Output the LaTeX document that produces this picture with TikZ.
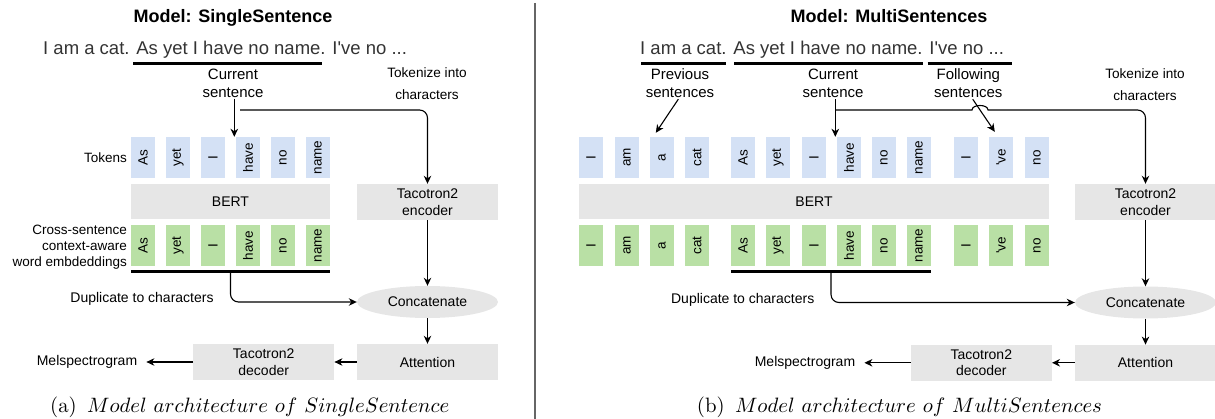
\documentclass[tikz,border=0pt]{standalone}
\usepackage{fontspec}
\usepackage{graphicx}
\newfontfamily\arialfont{Liberation Sans}
\usetikzlibrary{shapes.geometric,arrows.meta}

\definecolor{tokblue}{RGB}{212,225,245}
\definecolor{embgreen}{RGB}{185,224,165}
\definecolor{boxgray}{RGB}{230,230,230}

\newcommand{\vt}[1]{\rotatebox{90}{#1}}
\newcommand{\subcap}[2]{\scalebox{2.08}{(#1)\hspace{0.5em}$#2$}}

\begin{document}
\begin{tikzpicture}[x=1pt,y=-1pt,
  font=\arialfont\fontsize{14}{16.7}\selectfont,
  ttl/.style={inner sep=0pt, anchor=base, font=\arialfont\bfseries\fontsize{18}{20}\selectfont},
  sent/.style={inner sep=0pt, anchor=base west, text=black!80, font=\arialfont\fontsize{18.5}{22}\selectfont},
  capt/.style={inner sep=0pt, anchor=base west, font=\fontsize{10}{12}\selectfont},
  lbl/.style={align=center, inner sep=1pt, font=\arialfont\fontsize{15}{18}\selectfont},
  small/.style={font=\arialfont\fontsize{13.5}{16.3}\selectfont},
  tok/.style={fill=tokblue, minimum width=24pt, minimum height=41pt, inner sep=0pt, small},
  emb/.style={tok, fill=embgreen},
  gbox/.style={fill=boxgray, minimum width=141pt, minimum height=36pt, inner sep=0pt, align=center},
  arr/.style={-{Stealth[length=8pt,width=7.5pt,inset=2.5pt]}, line width=1.1pt},
  uline/.style={line width=3pt},
]
\useasboundingbox (0,0) rectangle (1215,419);

%%% SingleSentence
\node[ttl] (sTitle) at (233,23) {Model: SingleSentence};
\node[sent] (sSent) at (43,54.5) {I am a cat. As yet I have no name. I've no ...};
\draw[uline] (133,63.5) -- (322,63.5);

\node[lbl] (sCur) at (233,83) {Current\\sentence};
\node[align=center, font=\arialfont\fontsize{13.6}{22}\selectfont] (sTok) at (427,84) {Tokenize into\\characters};
\node[small, anchor=east, inner sep=1pt] (sTokLbl) at (128,158) {Tokens};
\node[small, anchor=east, align=right, inner sep=1pt] (sEmbLbl) at (128,247) {Cross-sentence\\context-aware\\word embdeddings};

\node[tok] (sT1) at (143,157.5) {\vt{As}};
\node[tok] (sT2) at (178,157.5) {\vt{yet}};
\node[tok] (sT3) at (213,157.5) {\vt{I}};
\node[tok] (sT4) at (248,157.5) {\vt{have}};
\node[tok] (sT5) at (283,157.5) {\vt{no}};
\node[tok] (sT6) at (318,157.5) {\vt{name}};

\node[gbox, minimum width=199pt, minimum height=35pt] (sBERT) at (230.5,201.5) {BERT};

\node[emb] (sE1) at (143,245.5) {\vt{As}};
\node[emb] (sE2) at (178,245.5) {\vt{yet}};
\node[emb] (sE3) at (213,245.5) {\vt{I}};
\node[emb] (sE4) at (248,245.5) {\vt{have}};
\node[emb] (sE5) at (283,245.5) {\vt{no}};
\node[emb] (sE6) at (318,245.5) {\vt{name}};

\node[gbox] (sEnc) at (427.5,202) {Tacotron2\\encoder};
\node[gbox, ellipse, minimum height=32pt] (sCat) at (427.5,302) {Concatenate};
\node[gbox] (sAtt) at (427.5,362) {Attention};
\node[gbox] (sDec) at (263.7,362) {Tacotron2\\decoder};
\node[inner xsep=9pt] (sMel) at (87,362) {Melspectrogram};
\node (sDup) at (142,299) {Duplicate to characters};

\coordinate (sHit) at ([xshift=-1.5pt]sT4.north west);
\coordinate (sTap) at (240,110);
\draw[arr] (sCur.south -| sHit) -- (sHit);
\draw[arr, rounded corners=8pt] (sTap) -| (sEnc.north);
\draw[uline] ([yshift=-5.5pt]sE1.south west) -- ([yshift=-5.5pt]sE6.south east) coordinate[midway] (sUl);
\draw[arr, rounded corners=8pt] (sUl) |- (sCat.west);
\draw[arr] (sEnc.south) -- (sCat.north);
\draw[arr] (sCat.south) -- (sAtt.north);
\draw[arr] (sAtt.west) -- (sDec.east);
\draw[arr] (sDec.west) -- (sMel.east);

\node[capt] (sCap) at (50,412) {\subcap{a}{Model\ architecture\ of\ SingleSentence}};

%%% divider
\draw[black!60, line width=1.3pt] (535,3) -- (535,419);

%%% MultiSentences
\node[ttl] (mTitle) at (889,23) {Model: MultiSentences};
\node[sent] (mSent) at (640,54.5) {I am a cat. As yet I have no name. I've no ...};
\draw[uline] (641,63.5) -- (725.7,63.5);
\draw[uline] (734,63.5) -- (922.7,63.5);
\draw[uline] (927.7,63.5) -- (1011.7,63.5);

\node[lbl] (mPrev) at (680,83.5) {Previous\\sentences};
\node[lbl] (mCur) at (833,83.5) {Current\\sentence};
\node[lbl] (mFol) at (968.3,83.5) {Following\\sentences};
\node[align=center, font=\arialfont\fontsize{13.6}{22}\selectfont] (mTok) at (1145,84.5) {Tokenize into\\characters};

\node[tok] (mT1) at (591,157.5) {\vt{I}};
\node[tok] (mT2) at (627,157.5) {\vt{am}};
\node[tok] (mT3) at (662,157.5) {\vt{a}};
\node[tok] (mT4) at (697,157.5) {\vt{cat}};
\node[tok] (mT5) at (743,157.5) {\vt{As}};
\node[tok] (mT6) at (778,157.5) {\vt{yet}};
\node[tok] (mT7) at (814,157.5) {\vt{I}};
\node[tok] (mT8) at (849,157.5) {\vt{have}};
\node[tok] (mT9) at (884,157.5) {\vt{no}};
\node[tok] (mT10) at (919,157.5) {\vt{name}};
\node[tok] (mT11) at (966,157.5) {\vt{I}};
\node[tok] (mT12) at (1001,157.5) {\vt{\textquotesingle ve}};
\node[tok] (mT13) at (1037,157.5) {\vt{no}};

\node[gbox, minimum width=470pt, minimum height=35pt] (mBERT) at (814,201.5) {BERT};

\node[emb] (mE1) at (591,245.5) {\vt{I}};
\node[emb] (mE2) at (627,245.5) {\vt{am}};
\node[emb] (mE3) at (662,245.5) {\vt{a}};
\node[emb] (mE4) at (697,245.5) {\vt{cat}};
\node[emb] (mE5) at (743,245.5) {\vt{As}};
\node[emb] (mE6) at (778,245.5) {\vt{yet}};
\node[emb] (mE7) at (814,245.5) {\vt{I}};
\node[emb] (mE8) at (849,245.5) {\vt{have}};
\node[emb] (mE9) at (884,245.5) {\vt{no}};
\node[emb] (mE10) at (919,245.5) {\vt{name}};
\node[emb] (mE11) at (966,245.5) {\vt{I}};
\node[emb] (mE12) at (1001,245.5) {\vt{\textquotesingle ve}};
\node[emb] (mE13) at (1037,245.5) {\vt{no}};

\node[gbox] (mEnc) at (1145.5,202) {Tacotron2\\encoder};
\node[gbox, ellipse, minimum height=32pt] (mCat) at (1145.5,302.5) {Concatenate};
\node[gbox] (mAtt) at (1145.5,362.8) {Attention};
\node[gbox] (mDec) at (981.3,362.8) {Tacotron2\\decoder};
\node[inner xsep=9pt] (mMel) at (805,362.8) {Melspectrogram};
\node (mDup) at (742.7,300) {Duplicate to characters};

\coordinate (mHit) at ([xshift=-1.5pt]mT8.north west);
\coordinate (mTap) at (mHit |- sTap);
\draw[arr] (mCur.south -| mHit) -- (mHit);
\draw[arr] ([xshift=-1.7pt]mPrev.south) -- ([xshift=6pt,yshift=4pt]mT3.north west);
\draw[arr] ([xshift=4.4pt]mFol.south) -- ([xshift=6pt,yshift=5pt]mT12.north west);
\draw[arr] (mTap) -- (972,110) .. controls (972,104) and (988,104) .. (988,110) [rounded corners=8pt] -| (mEnc.north);
\draw[uline] ([yshift=-5.5pt]mE5.south west) -- ([yshift=-5.5pt]mE10.south east) coordinate[midway] (mUl);
\draw[arr, rounded corners=8pt] (mUl) |- (mCat.west);
\draw[arr] (mEnc.south) -- (mCat.north);
\draw[arr] (mCat.south) -- (mAtt.north);
\draw[arr] (mAtt.west) -- (mDec.east);
\draw[arr] (mDec.west) -- (mMel.east);

\node[capt] (mCap) at (696.7,412) {\subcap{b}{Model\ architecture\ of\ MultiSentences}};

\end{tikzpicture}
\end{document}
